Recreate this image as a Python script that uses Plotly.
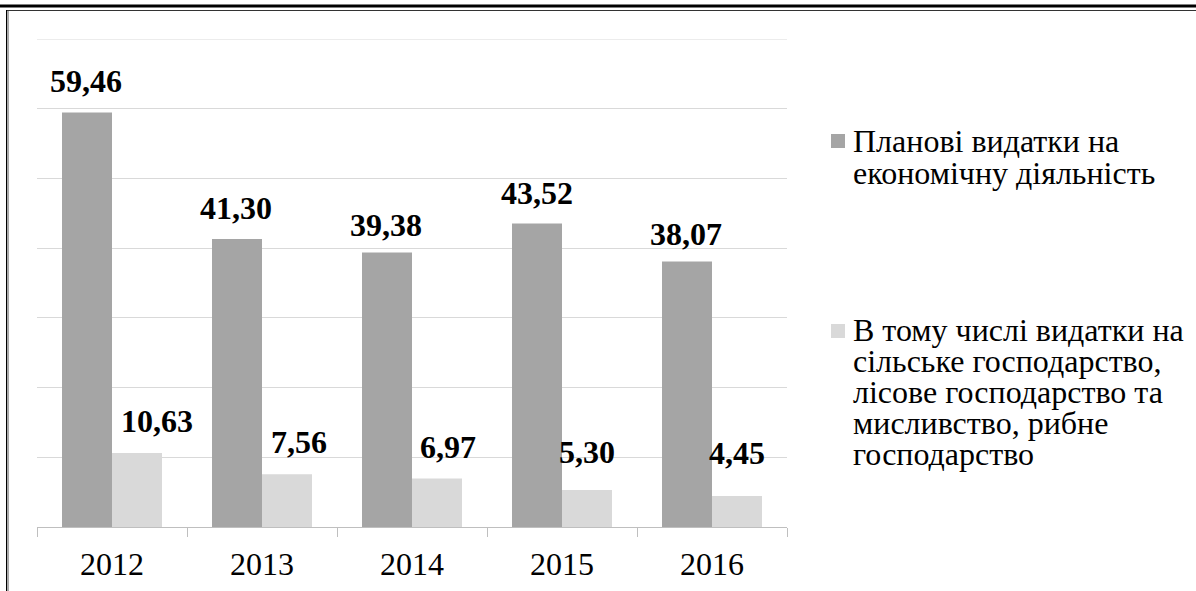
import plotly.graph_objects as go

# Data
years = ["2012", "2013", "2014", "2015", "2016"]
planned = [59.46, 41.30, 39.38, 43.52, 38.07]
agri = [10.63, 7.56, 6.97, 5.30, 4.45]

name_planned = "Планові видатки на економічну діяльність"
name_agri = ("В тому числі видатки на сільське господарство, "
             "лісове господарство та мисливство, рибне господарство")

legend_lines_planned = ["Планові видатки на", "економічну діяльність"]
legend_lines_agri = ["В тому числі видатки на", "сільське господарство,",
                     "лісове господарство та", "мисливство, рибне",
                     "господарство"]

# Label placement tweaks (pixels): extra horizontal shift, lift above bar top
planned_dx = [-1, -1, -1, 0, -1]
planned_lift = [19, 19, 15, 19, 16]
agri_dx = [20, 12, 11, 0, 0]
agri_lift = [20, 20, 19, 26, 31]

W, H = 1196, 591
L, R, T, B = 37, 787, 39, 527
FONT = "Times New Roman"
DARK = "#a5a5a5"
LIGHT = "#d9d9d9"
GRID = "#d9d9d9"


def px(x):
    return (x - L) / (R - L)


def py(y):
    return (B - y) / (B - T)


def fmt(v):
    return f"<b>{v:.2f}</b>".replace(".", ",")


fig = go.Figure()
fig.add_bar(x=years, y=planned, name=name_planned, marker_color=DARK,
            marker_line_width=0, showlegend=False)
fig.add_bar(x=years, y=agri, name=name_agri, marker_color=LIGHT,
            marker_line_width=0, showlegend=False)

annotations = []
DESC = 8  # baseline-to-box-bottom distance for a 32px serif label
for i, v in enumerate(planned):
    annotations.append(dict(
        x=i - 1 / 6, y=v, xref="x", yref="y", text=fmt(v),
        showarrow=False, xanchor="center", yanchor="bottom",
        xshift=planned_dx[i], yshift=planned_lift[i] - DESC,
        font=dict(family=FONT, size=32, color="black")))
for i, v in enumerate(agri):
    annotations.append(dict(
        x=i + 1 / 6, y=v, xref="x", yref="y", text=fmt(v),
        showarrow=False, xanchor="center", yanchor="bottom",
        xshift=agri_dx[i], yshift=agri_lift[i] - DESC,
        font=dict(family=FONT, size=32, color="black")))

# top gridline sits on the edge of the value range
shapes = [dict(type="line", xref="paper", yref="y", x0=0, x1=1, y0=70, y1=70,
               line=dict(color=GRID, width=1), layer="below")]


def legend_block(lines, color, swatch_cy, first_baseline, step):
    shapes.append(dict(type="rect", xref="paper", yref="paper",
                       x0=px(831), x1=px(845), y0=py(swatch_cy + 7), y1=py(swatch_cy - 7),
                       fillcolor=color, line_width=0))
    for k, line in enumerate(lines):
        base = first_baseline + k * step
        annotations.append(dict(
            x=px(851), y=py(base - 10.7), xref="paper", yref="paper", text=line,
            showarrow=False, xanchor="left", yanchor="middle",
            font=dict(family=FONT, size=32, color="black")))


legend_block(legend_lines_planned, DARK, 141, 152, 32)
legend_block(legend_lines_agri, LIGHT, 331, 341, 31)

# Page frame: heavy rule on top, thin rule and double left border
shapes += [
    dict(type="line", xref="paper", yref="paper", x0=px(0), x1=px(W),
         y0=py(6), y1=py(6), line=dict(color="black", width=3)),
    dict(type="line", xref="paper", yref="paper", x0=px(6), x1=px(W),
         y0=py(10.5), y1=py(10.5), line=dict(color="#333333", width=1.2)),
    dict(type="line", xref="paper", yref="paper", x0=px(6.5), x1=px(6.5),
         y0=py(10), y1=py(H), line=dict(color="black", width=1)),
    dict(type="line", xref="paper", yref="paper", x0=px(8), x1=px(8),
         y0=py(11), y1=py(H), line=dict(color="#555555", width=1)),
]

fig.update_layout(
    width=W, height=H,
    margin=dict(l=L, r=W - R, t=T, b=H - B, pad=0),
    paper_bgcolor="white", plot_bgcolor="white",
    barmode="group", bargap=1 / 3, bargroupgap=0,
    font=dict(family=FONT, size=32, color="black"),
    annotations=annotations, shapes=shapes,
    xaxis=dict(type="category", showline=True, linecolor="#bfbfbf", linewidth=1,
               ticks="outside", ticklen=9, tickcolor="#bfbfbf", tickson="boundaries",
               ticklabelstandoff=9, automargin=False,
               tickfont=dict(family=FONT, size=32, color="black"), showgrid=False),
    yaxis=dict(range=[0, 70], dtick=10, showticklabels=False, showgrid=True,
               automargin=False,
               gridcolor=GRID, gridwidth=1, zeroline=False, showline=False),
)

fig.write_html("out.html")
